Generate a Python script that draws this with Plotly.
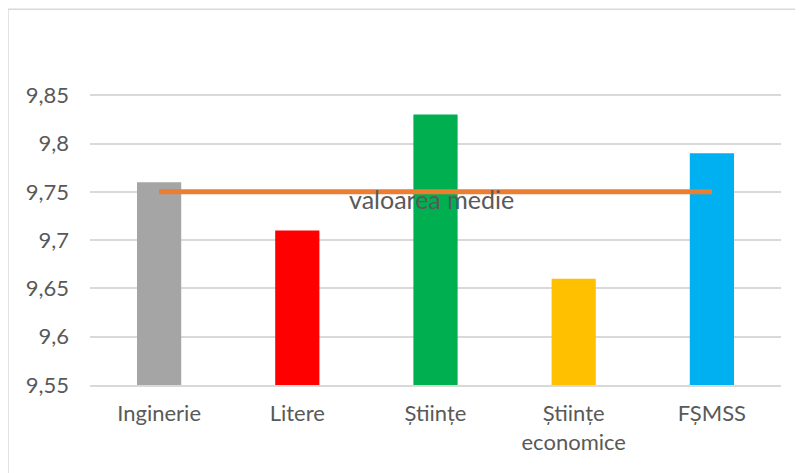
import plotly.graph_objects as go

categories = ["Inginerie", "Litere", "Științe", "Științe economice", "FȘMSS"]
x_tick_labels = ["Inginerie", "Litere", "Științe", "Științe<br>economice", "FȘMSS"]
values = [9.76, 9.71, 9.83, 9.66, 9.79]
bar_colors = ["#A5A5A5", "#FF0000", "#00B050", "#FFC000", "#00B0F0"]
axis_min = 9.55
mean_value = [9.75, 9.75]
mean_x = [categories[0], categories[-1]]
mean_label = "valoarea medie"
y_tick_vals = [9.55, 9.6, 9.65, 9.7, 9.75, 9.8, 9.85]
y_tick_text = ["9,55", "9,6", "9,65", "9,7", "9,75", "9,8", "9,85"]

FONT = "Lato"
TXT = "#595959"
GRID = "#D9D9D9"

fig = go.Figure()
fig.add_trace(go.Bar(x=categories, y=[v - axis_min for v in values],
                     base=axis_min, marker_color=bar_colors,
                     marker_line_width=0, width=0.32, showlegend=False))

fig.add_trace(go.Scatter(x=mean_x, y=mean_value, mode="lines",
                         line=dict(color="#ED7D31", width=5),
                         showlegend=False))

fig.add_annotation(x=categories[2], y=mean_value[0], text=mean_label,
                   showarrow=False, xshift=-4, yshift=-7, yanchor="middle",
                   font=dict(family=FONT, size=25, color=TXT))

fig.add_shape(type="rect", xref="paper", yref="paper",
              x0=-0.1187, x1=1.3, y0=-0.6, y1=1.1114,
              line=dict(color=GRID, width=1.5), fillcolor="rgba(0,0,0,0)",
              layer="below")

fig.update_layout(
    width=803, height=473,
    margin=dict(l=82, r=30, t=39, b=96),
    paper_bgcolor="white", plot_bgcolor="white",
    font=dict(family=FONT, size=22, color=TXT),
)
fig.update_xaxes(tickmode="array", tickvals=categories, ticktext=x_tick_labels,
                 showgrid=False, showline=True, linecolor=GRID, linewidth=1.5,
                 ticks="", ticklabelstandoff=8,
                 tickfont=dict(family=FONT, size=22, color=TXT),
                 fixedrange=True)
fig.update_yaxes(range=[9.55, 9.9], tickmode="array", tickvals=y_tick_vals,
                 ticktext=y_tick_text, showgrid=True, gridcolor=GRID,
                 gridwidth=1.5, zeroline=False, ticks="",
                 ticklabelstandoff=20,
                 tickfont=dict(family=FONT, size=22, color=TXT),
                 fixedrange=True)

fig.write_html("out.html")
